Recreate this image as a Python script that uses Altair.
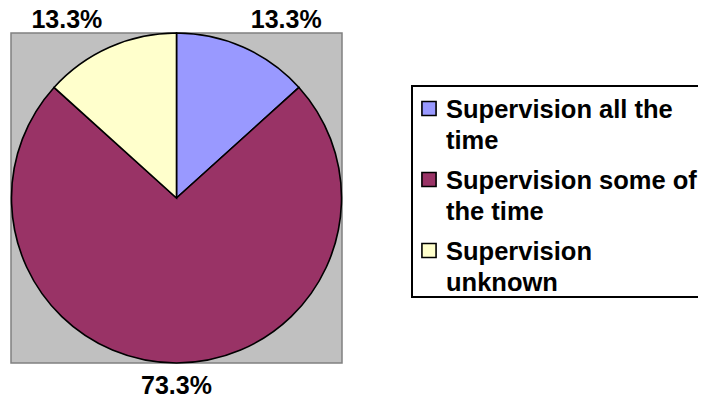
import altair as alt
import pandas as pd

categories = ["Supervision all the time", "Supervision some of the time", "Supervision unknown"]
values = [13.3, 73.3, 13.3]
labels = ["13.3%", "73.3%", "13.3%"]
colors = ["#9999FF", "#993366", "#FFFFCC"]
legend_lines = {
    "Supervision all the time": ["Supervision all the", "time"],
    "Supervision some of the time": ["Supervision some of", "the time"],
    "Supervision unknown": ["Supervision", "unknown"],
}

df = pd.DataFrame({
    "category": categories,
    "value": values,
    "label": labels,
    "legend_text": ["\n".join(legend_lines[c]) for c in categories],
    "order": list(range(len(categories))),
})

FONT = "Liberation Sans"
CX, CY, R = 168.5, 190, 165

color_scale = alt.Scale(domain=categories, range=colors)
legend_y = alt.Y("category:N", sort=categories, axis=None,
                 scale=alt.Scale(domain=categories, range=[100.5, 242.5], padding=0))

base = alt.Chart(df)

background = alt.Chart(pd.DataFrame({"k": [0]})).mark_rect(
    fill="#C0C0C0", stroke="#808080", strokeWidth=1.5
).encode(x=alt.value(3), x2=alt.value(334), y=alt.value(25), y2=alt.value(355))

pie = base.mark_arc(radius=R, stroke="black", strokeWidth=1.6).encode(
    theta=alt.Theta("value:Q", stack=True),
    color=alt.Color("category:N", scale=color_scale, legend=None),
    order=alt.Order("order:Q"),
    x=alt.value(CX),
    y=alt.value(CY),
)

text = base.transform_window(
    cum="sum(value)", sort=[alt.SortField("order")]
).transform_joinaggregate(
    total="sum(value)"
).transform_calculate(
    mid="2*PI*(datum.cum - datum.value/2)/datum.total",
).transform_calculate(
    lx=f"{CX} + 270*sin(datum.mid)",
    ly=f"clamp({CY} - 240*cos(datum.mid), 20, 385.5)",
).mark_text(font=FONT, fontSize=25, fontWeight="bold", color="black", baseline="alphabetic").encode(
    x=alt.X("lx:Q", scale=None),
    y=alt.Y("ly:Q", scale=None),
    text="label:N",
)

# legend box (right edge runs past the chart edge, as in the reference)
legend_box = alt.Chart(pd.DataFrame({"k": [0]})).mark_rect(
    fill="white", stroke="black", strokeWidth=2
).encode(x=alt.value(404), x2=alt.value(730), y=alt.value(78), y2=alt.value(289))

legend_swatch = base.mark_point(
    shape="square", filled=True, size=200, stroke="black", strokeWidth=1.6, opacity=1
).encode(
    x=alt.value(421),
    y=legend_y,
    fill=alt.Fill("category:N", scale=color_scale, legend=None),
)

legend_text = base.mark_text(
    font=FONT, fontSize=25.5, fontWeight="bold", color="black",
    align="left", baseline="alphabetic", lineBreak="\n", lineHeight=31, dy=9.5,
).encode(
    x=alt.value(438),
    y=legend_y,
    text="legend_text:N",
)

chart = alt.layer(background, pie, text, legend_box, legend_swatch, legend_text).properties(
    width=690, height=386, padding=0,
    autosize=alt.AutoSizeParams(type="none"),
).configure_view(stroke=None)

chart.save("out.html", embed_options={"renderer": "svg", "actions": False})
